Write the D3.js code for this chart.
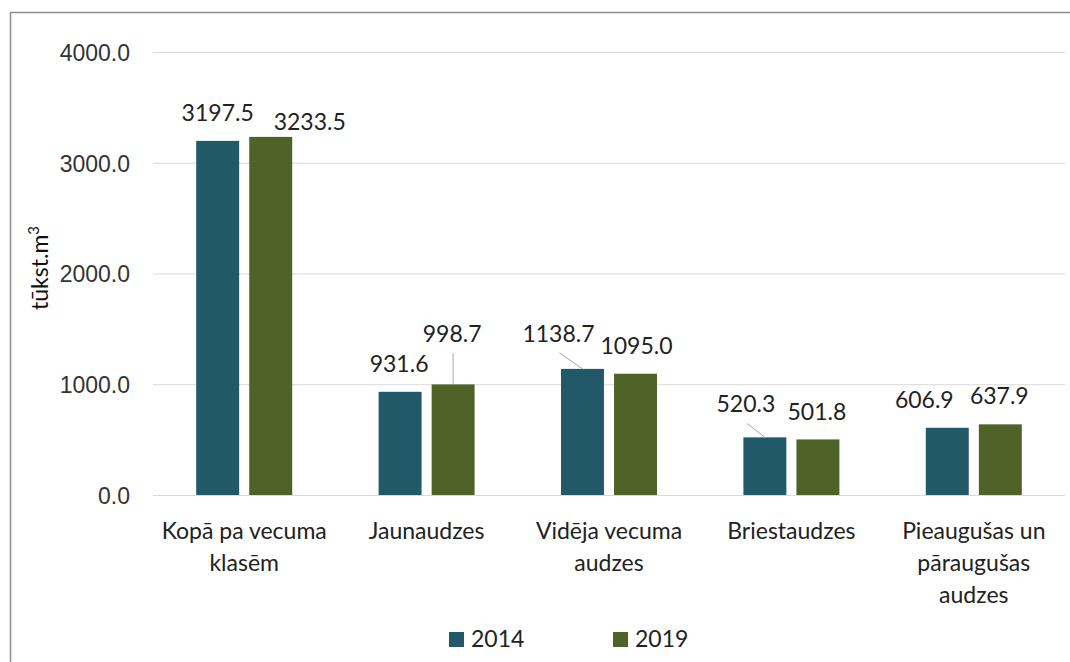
<!DOCTYPE html>
<html>
<head>
<meta charset="utf-8">
<script src="https://cdn.jsdelivr.net/npm/d3@7"></script>
<style>
  html, body { margin: 0; padding: 0; background: #fff; }
  svg { display: block; font-family: Lato, "Open Sans", sans-serif; }
  .tick text { fill: #333; }
</style>
</head>
<body>
<div id="chart"></div>
<script>
// data
const categories = [
  ["Kopā pa vecuma", "klasēm"],
  ["Jaunaudzes"],
  ["Vidēja vecuma", "audzes"],
  ["Briestaudzes"],
  ["Pieaugušas un", "pāraugušas", "audzes"]
];
const series = ["2014", "2019"];
const values2014 = [3197.5, 931.6, 1138.7, 520.3, 606.9];
const values2019 = [3233.5, 998.7, 1095.0, 501.8, 637.9];
const yTicks = [0, 1000, 2000, 3000, 4000];

// label placement tweaks (dx from bar centre, dy baseline above bar top, leader line?)
const labelNudge = [
  [[0, -20, false], [39, -7, false]],
  [[-1, -20, false], [-1, -42, true]],
  [[-24, -27, true], [1, -20, false]],
  [[-19, -25, true], [-1, -19, false]],
  [[-23, -20, false], [-1, -20, false]]
];

const colors = {"2014": "#215968", "2019": "#4f6228"};
const width = 1070, height = 662;
const margin = {top: 52, right: 5, bottom: 167, left: 153};

const svg = d3.select("#chart").append("svg")
    .attr("width", width)
    .attr("height", height);

// frame
svg.append("rect")
    .attr("x", 10.5).attr("y", 12.5)
    .attr("width", width + 20).attr("height", height + 20)
    .attr("fill", "#fff")
    .attr("stroke", "#8c8c8c")
    .attr("stroke-width", 1.5);

const keys = categories.map((c, i) => i);
const x0 = d3.scaleBand()
    .domain(keys)
    .range([margin.left, width - margin.right]);

const x1 = d3.scaleBand()
    .domain(series)
    .range([x0.bandwidth()/2 - 48, x0.bandwidth()/2 + 48])
    .paddingInner(0.19);

const y = d3.scaleLinear()
    .domain([0, 4000])
    .range([height - margin.bottom, margin.top]);

const fmt = d3.format(".1f");

// grid + y labels
const yAxis = svg.append("g")
    .attr("transform", `translate(${margin.left},0)`)
    .call(d3.axisLeft(y).tickValues(yTicks).tickFormat(fmt)
        .tickSize(-(width - margin.right - margin.left)).tickPadding(23));
yAxis.select(".domain").remove();
yAxis.selectAll(".tick line").attr("stroke", "#d9d9d9").attr("stroke-width", 1.2);
yAxis.selectAll(".tick text").attr("font-size", 23).attr("dy", "0.36em");

// y title
svg.append("text")
    .attr("transform", `translate(48, 268) rotate(-90)`)
    .attr("text-anchor", "middle")
    .attr("font-size", 23)
    .attr("fill", "#111")
    .html('tūkst.m<tspan dy="-9" font-size="15">3</tspan>');

const rows = keys.map(i => ({i, vals: [values2014[i], values2019[i]]}));

const groups = svg.append("g").selectAll("g")
    .data(rows)
    .join("g")
    .attr("transform", d => `translate(${x0(d.i)},0)`);

groups.selectAll("rect")
    .data(d => series.map((s, j) => ({s, v: d.vals[j]})))
    .join("rect")
    .attr("x", d => x1(d.s))
    .attr("width", x1.bandwidth())
    .attr("y", d => y(d.v))
    .attr("height", d => y(0) - y(d.v))
    .attr("fill", d => colors[d.s]);

// data labels
groups.each(function(d) {
    const g = d3.select(this);
    series.forEach((s, j) => {
        const [dx, dy, leader] = labelNudge[d.i][j];
        const cx = x1(s) + x1.bandwidth()/2;
        const top = y(d.vals[j]);
        const lx = cx + dx, ly = top + dy;
        if (leader) {
            g.append("line")
                .attr("x1", lx + 1).attr("y1", ly + 11)
                .attr("x2", cx).attr("y2", top)
                .attr("stroke", "#a6a6a6").attr("stroke-width", 1);
        }
        g.append("text")
            .attr("x", lx).attr("y", ly)
            .attr("text-anchor", "middle")
            .attr("font-size", 23)
            .attr("fill", "#222")
            .text(fmt(d.vals[j]));
    });
});

// category labels
const xl = svg.append("g").selectAll("text")
    .data(rows)
    .join("text")
    .attr("x", d => x0(d.i) + x0.bandwidth()/2)
    .attr("y", y(0) + 44)
    .attr("text-anchor", "middle")
    .attr("font-size", 23)
    .attr("fill", "#222");
xl.selectAll("tspan")
    .data(d => categories[d.i].map((t, k) => ({t, k, cx: x0(d.i) + x0.bandwidth()/2})))
    .join("tspan")
    .attr("x", d => d.cx)
    .attr("dy", d => d.k === 0 ? 0 : 32)
    .text(d => d.t);

// legend
const legX = d3.scaleOrdinal().domain(series).range([449, 613]);
const leg = svg.append("g").selectAll("g")
    .data(series)
    .join("g")
    .attr("transform", d => `translate(${legX(d)},632)`);
leg.append("rect")
    .attr("width", 15).attr("height", 15)
    .attr("fill", d => colors[d]);
leg.append("text")
    .attr("x", 22).attr("y", 15)
    .attr("font-size", 23)
    .attr("fill", "#222")
    .text(d => d);
</script>
</body>
</html>
